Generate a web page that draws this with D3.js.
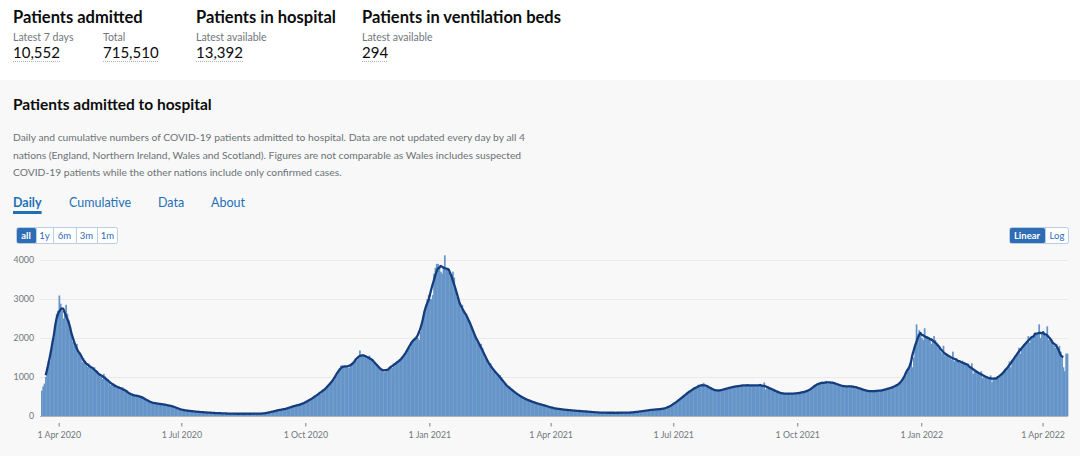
<!DOCTYPE html>
<html>
<head>
<meta charset="utf-8">
<script src="https://cdn.jsdelivr.net/npm/d3@7"></script>
<style>
  body { margin: 0; background: #fff; }
  svg { display: block; font-family: Lato, "Noto Sans", sans-serif; }
</style>
</head>
<body>
<script>

  // headline numbers
  const summaryTitles = ["Patients admitted", "Patients in hospital", "Patients in ventilation beds"];
  const summaryLabels = [["Latest 7 days", "Total"], ["Latest available"], ["Latest available"]];
  const summaryValues = [["10,552", "715,510"], ["13,392"], ["294"]];

  const tabs = ["Daily", "Cumulative", "Data", "About"];
  const ranges = ["all", "1y", "6m", "3m", "1m"];
  const scales = ["Linear", "Log"];

  const description = [
    "Daily and cumulative numbers of COVID-19 patients admitted to hospital. Data are not updated every day by all 4",
    "nations (England, Northern Ireland, Wales and Scotland). Figures are not comparable as Wales includes suspected",
    "COVID-19 patients while the other nations include only confirmed cases."
  ];

  const firstDay = "2020-03-19";

  // daily admissions, 19 Mar 2020 - 31 Dec 2020
  const admissions2020 = [
    650, 760, 830, 1000, 1250, 1420, 1390, 1650, 1850, 2000, 2250, 2620, 2700,
    3090, 2880, 2700, 2500, 2600, 2850, 2620, 2450, 2300, 2100, 1900, 1800, 1750, 1850, 1700, 1600, 1550, 1380, 1480, 1380, 1350, 1260, 1340, 1240, 1200, 1230, 1250, 1180, 1120, 1080,
    1050, 1000, 950, 1080, 1020, 960, 900, 880, 790, 800, 840, 810, 770, 760, 700, 690, 670, 740, 700, 680, 620, 600, 570, 540, 520, 560, 540, 520, 510, 500, 490,
    510, 490, 470, 420, 400, 370, 350, 370, 350, 330, 330, 320, 310, 300, 320, 310, 300, 295, 285, 275, 265, 275, 265, 250, 240, 230, 210, 195, 180, 170,
    160, 150, 145, 140, 135, 140, 130, 125, 122, 118, 112, 108, 112, 105, 102, 98, 95, 90, 93, 88, 86, 84, 80, 78, 82, 76, 74, 72, 70, 73, 68,
    68, 66, 64, 62, 65, 60, 58, 62, 60, 57, 55, 60, 58, 56, 60, 62, 58, 55, 57, 60, 62, 58, 56, 60, 59, 57, 62, 64, 60, 58, 62,
    75, 80, 88, 95, 102, 110, 118, 125, 135, 145, 155, 165, 170, 160, 175, 185, 190, 200, 215, 230, 245, 255, 265, 270, 280, 290, 285, 300, 320, 340,
    360, 380, 400, 420, 440, 460, 470, 500, 520, 560, 620, 570, 640, 660, 680, 700, 740, 780, 830, 880, 950, 930, 1000, 1060, 1150, 1230, 1290, 1300, 1270, 1280, 1260,
    1250, 1240, 1300, 1330, 1350, 1400, 1420, 1450, 1520, 1680, 1570, 1580, 1540, 1500, 1480, 1520, 1550, 1480, 1440, 1420, 1360, 1330, 1300, 1260, 1220, 1180, 1150, 1120, 1130, 1190,
    1200, 1240, 1250, 1230, 1350, 1330, 1360, 1380, 1400, 1430, 1460, 1500, 1540, 1620, 1680, 1740, 1760, 1900, 1920, 1980, 2020, 2050, 2000, 1950, 2150, 2350, 2550, 2700, 2850, 3000, 3100
  ];

  // daily admissions, 2021
  const admissions2021 = [
    3000, 3000, 3100, 3650, 3800, 3900, 3900, 3850, 3700, 3650, 3800, 4120, 3750, 3800, 3700, 3650, 3550, 3700, 3550, 3200, 3050, 2950, 2850, 2750, 2850, 2700, 2650, 2580, 2500, 2450, 2400,
    2300, 2200, 2100, 2000, 1900, 1850, 1800, 1850, 1750, 1600, 1500, 1450, 1350, 1300, 1350, 1250, 1200, 1150, 1100, 1050, 1000, 1050, 1000, 900, 850, 800, 760, 720,
    760, 700, 670, 640, 600, 570, 540, 560, 520, 490, 470, 450, 430, 410, 420, 400, 380, 360, 350, 340, 330, 320, 310, 300, 290, 280, 270, 260, 250, 240, 230,
    220, 210, 200, 195, 190, 185, 180, 175, 170, 165, 160, 158, 155, 150, 148, 145, 142, 140, 138, 135, 130, 128, 125, 122, 120, 118, 115, 112, 110, 108,
    105, 100, 98, 95, 92, 90, 88, 86, 85, 84, 86, 83, 82, 84, 85, 80, 82, 84, 86, 83, 80, 82, 85, 84, 86, 88, 85, 83, 86, 90, 92,
    95, 100, 105, 108, 112, 115, 120, 125, 130, 135, 140, 145, 150, 155, 160, 165, 168, 170, 172, 170, 175, 178, 180, 185, 200, 215, 230, 250, 270, 290,
    310, 335, 360, 385, 410, 440, 470, 500, 530, 560, 590, 610, 640, 660, 680, 700, 720, 735, 800, 740, 790, 800, 850, 760, 790, 770, 740, 720, 700, 680, 670,
    650, 640, 640, 650, 660, 670, 680, 690, 720, 690, 720, 730, 740, 750, 760, 750, 760, 770, 780, 770, 780, 790, 780, 820, 770, 790, 780, 790, 770, 780, 790,
    790, 780, 785, 790, 780, 860, 680, 750, 740, 720, 700, 690, 670, 650, 630, 620, 600, 590, 580, 575, 570, 575, 570, 565, 570, 575, 570, 580, 575, 580,
    580, 590, 595, 600, 610, 620, 630, 640, 650, 670, 690, 720, 760, 790, 820, 840, 840, 840, 845, 850, 855, 900, 825, 870, 870, 860, 860, 850, 840, 820, 800,
    790, 780, 770, 760, 755, 750, 755, 790, 735, 760, 758, 755, 745, 735, 720, 705, 690, 680, 670, 660, 650, 640, 635, 630, 630, 635, 640, 640, 645, 650,
    650, 655, 660, 670, 680, 690, 700, 710, 720, 735, 750, 760, 775, 790, 810, 840, 880, 930, 990, 1060, 1150, 1250, 1350, 1400, 1250, 1500, 1800, 2350, 2100, 2200, 2050
  ];

  // daily admissions, 1 Jan 2022 - 19 Apr 2022
  const admissions2022 = [
    2000, 1950, 2250, 2000, 2050, 2000, 1950, 1850, 1900, 2050, 1950, 1850, 1800, 1750, 1650, 1600, 1800, 1550, 1600, 1550, 1500, 1480, 1450, 1650, 1400, 1480, 1420, 1400, 1380, 1350, 1420,
    1380, 1350, 1320, 1300, 1280, 1250, 1350, 1080, 1180, 1150, 1130, 1110, 1090, 1150, 970, 1030, 1010, 990, 980, 970, 1040, 870, 940, 950, 960, 980, 1000, 1020,
    1060, 1100, 1120, 1180, 1200, 1250, 1400, 1250, 1420, 1450, 1500, 1560, 1600, 1750, 1600, 1750, 1780, 1800, 1850, 1900, 2050, 1880, 2000, 2050, 2060, 2100, 2080, 2120, 2350, 2000, 2120,
    2150, 2080, 2050, 2300, 1950, 2000, 1950, 1900, 1800, 1750, 1850, 1750, 1800, 1650, 1500, 1250, 1150, 1600, 1602
  ];

  const xTicks = ["2020-04-01", "2020-07-01", "2020-10-01", "2021-01-01", "2021-04-01",
                  "2021-07-01", "2021-10-01", "2022-01-01", "2022-04-01"];
  const yTicks = [0, 1000, 2000, 3000, 4000];

  const width = 1080, height = 456;
  const margin = {top: 260, bottom: 40, left: 41, right: 12};

  const svg = d3.select('body')
    .append('svg')
    .attr('width', width)
    .attr('height', height);

  // grey panel
  svg.append('rect')
    .attr('x', 0).attr('y', 80)
    .attr('width', width).attr('height', height - 80)
    .attr('fill', '#f8f8f8');

  // ---- headline numbers
  const summaryX = [13, 196, 362];
  const subX = [[13, 103], [196], [362]];

  summaryTitles.forEach(function(t, i) {
    svg.append('text')
      .attr('x', summaryX[i]).attr('y', 23)
      .attr('font-size', '16.5px').attr('font-weight', 700)
      .attr('fill', '#0b0c0c')
      .text(t);
    summaryLabels[i].forEach(function(l, j) {
      svg.append('text')
        .attr('x', subX[i][j]).attr('y', 41)
        .attr('font-size', '10.5px')
        .attr('fill', '#6f777b')
        .text(l);
      let num = svg.append('text')
        .attr('x', subX[i][j]).attr('y', 58)
        .attr('font-size', '15px')
        .attr('fill', '#0b0c0c')
        .text(summaryValues[i][j]);
      let w = num.node().getComputedTextLength();
      svg.append('line')
        .attr('x1', subX[i][j]).attr('x2', subX[i][j] + w)
        .attr('y1', 61.5).attr('y2', 61.5)
        .attr('stroke', '#b1b4b6')
        .attr('stroke-dasharray', '1,1');
    });
  });

  // ---- panel heading
  svg.append('text')
    .attr('x', 13).attr('y', 110)
    .attr('font-size', '15.5px').attr('font-weight', 700)
    .attr('fill', '#0b0c0c')
    .text('Patients admitted to hospital');

  description.forEach(function(line, i) {
    svg.append('text')
      .attr('x', 13).attr('y', 141 + i * 17.5)
      .attr('font-size', '10.3px')
      .attr('fill', '#6b7276')
      .text(line);
  });

  // tabs
  const tabX = [13, 69, 158, 211];
  tabs.forEach(function(t, i) {
    let el = svg.append('text')
      .attr('x', tabX[i]).attr('y', 207)
      .attr('font-size', '12.5px')
      .attr('font-weight', i === 0 ? 700 : 400)
      .attr('fill', '#1d70b8')
      .text(t);
    if (i === 0) {
      svg.append('rect')
        .attr('x', tabX[i]).attr('y', 211)
        .attr('width', el.node().getComputedTextLength()).attr('height', 3)
        .attr('fill', '#1d70b8');
    }
  });

  // button groups
  function buttons(labels, x0, widths, selected) {
    let x = x0;
    let g = svg.append('g');
    let total = d3.sum(widths);
    g.append('rect')
      .attr('x', x0 + 0.5).attr('y', 227.5)
      .attr('width', total - 1).attr('height', 16)
      .attr('rx', 2)
      .attr('fill', '#fff')
      .attr('stroke', '#b9cde8');
    labels.forEach(function(l, i) {
      if (i === selected) {
        g.append('rect')
          .attr('x', x + 1).attr('y', 228)
          .attr('width', widths[i] - 1).attr('height', 15)
          .attr('rx', 1.5)
          .attr('fill', '#2e6db4');
      } else if (i > 0) {
        g.append('line')
          .attr('x1', x + 0.5).attr('x2', x + 0.5)
          .attr('y1', 228).attr('y2', 243)
          .attr('stroke', '#b9cde8');
      }
      g.append('text')
        .attr('x', x + widths[i] / 2).attr('y', 238.5)
        .attr('text-anchor', 'middle')
        .attr('font-size', '9.5px')
        .attr('font-weight', i === selected ? 700 : 400)
        .attr('fill', i === selected ? '#fff' : '#2e6db4')
        .text(l);
      x += widths[i];
    });
  }
  buttons(ranges, 16, [20, 17, 23, 21, 21], 0);
  buttons(scales, 1009, [36, 24], 0);

  // ---- chart
  const daily = admissions2020.concat(admissions2021, admissions2022);
  const start = d3.utcParse("%Y-%m-%d")(firstDay);
  const data = daily.map(function(v, i) {
    return {date: d3.utcDay.offset(start, i), value: v};
  });

  const x = d3.scaleUtc()
    .domain([start, d3.utcDay.offset(start, daily.length)])
    .range([margin.left, width - margin.right]);

  const y = d3.scaleLinear()
    .domain([0, 4000])
    .range([416, 260]);

  const dayW = x(d3.utcDay.offset(start, 1)) - x(start);

  // grid
  svg.append('g')
    .selectAll('line')
    .data(yTicks.slice(1))
    .enter().append('line')
      .attr('x1', margin.left - 1).attr('x2', width - margin.right)
      .attr('y1', function(d) { return y(d) + 0.5; })
      .attr('y2', function(d) { return y(d) + 0.5; })
      .attr('stroke', '#e9e9e9');

  const yAxis = svg.append('g')
    .attr('transform', 'translate(' + (margin.left - 4) + ',0)')
    .call(d3.axisLeft(y).tickValues(yTicks).tickSize(0).tickFormat(d3.format('d')));
  yAxis.select('.domain').remove();
  yAxis.selectAll('text')
    .attr('font-family', 'Lato, "Noto Sans", sans-serif')
    .attr('font-size', '8.8px')
    .attr('fill', '#6f777b');

  // bars
  svg.append('g')
    .selectAll('rect')
    .data(data)
    .enter().append('rect')
      .attr('x', function(d) { return x(d.date); })
      .attr('width', dayW + 0.35)
      .attr('y', function(d) { return y(d.value); })
      .attr('height', function(d) { return y(0) - y(d.value); })
      .attr('fill', '#6494c8');

  // axis line
  svg.append('line')
    .attr('x1', margin.left - 1).attr('x2', width - margin.right)
    .attr('y1', 416.5).attr('y2', 416.5)
    .attr('stroke', '#b1b4b6').attr('stroke-width', 1.2);

  // 7 day rolling average (centred)
  const avg = [];
  for (let i = 3; i < data.length - 3; i++) {
    avg.push({date: data[i].date, value: d3.mean(data.slice(i - 3, i + 4), function(d) { return d.value; })});
  }
  const line = d3.line()
    .x(function(d) { return x(d.date) + dayW / 2; })
    .y(function(d) { return y(d.value); })
    .curve(d3.curveMonotoneX);

  svg.append('path')
    .datum(avg)
    .attr('d', line)
    .attr('fill', 'none')
    .attr('stroke', '#153d7d')
    .attr('stroke-width', 2.3)
    .attr('stroke-linejoin', 'round');

  // x ticks
  const tickFmt = d3.utcFormat("%-d %b %Y");
  const xt = svg.append('g')
    .selectAll('g')
    .data(xTicks.map(d3.utcParse("%Y-%m-%d")))
    .enter().append('g')
      .attr('transform', function(d) { return 'translate(' + (x(d) + dayW / 2) + ',0)'; });
  xt.append('line')
    .attr('y1', 423).attr('y2', 426.5)
    .attr('stroke', '#7b7f83');
  xt.append('text')
    .attr('y', 437.5)
    .attr('text-anchor', 'middle')
    .attr('font-size', '8.8px')
    .attr('fill', '#6f777b')
    .text(tickFmt);

</script>
</body>
</html>
